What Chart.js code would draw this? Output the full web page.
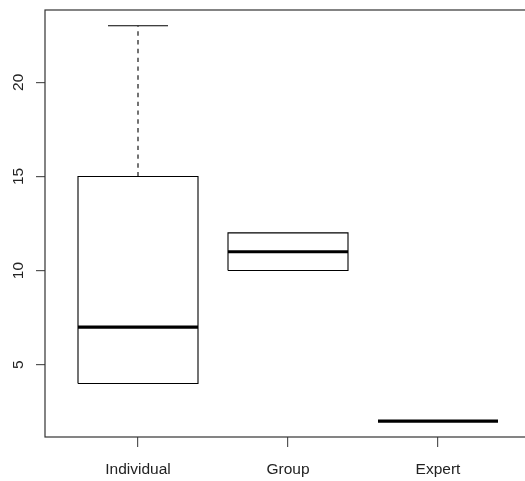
<!DOCTYPE html>
<html>
<head>
<meta charset="utf-8">
<script src="https://cdn.jsdelivr.net/npm/chart.js@4/dist/chart.umd.min.js"></script>
<style>
  html, body { margin: 0; padding: 0; background: #fff; overflow: hidden; }
  #wrap { position: relative; width: 532px; height: 481px; }
</style>
</head>
<body>
<div id="wrap"><canvas id="c" width="532" height="481"></canvas></div>
<script>
// Five-number summaries per group
const categories  = ['Individual', 'Group', 'Expert'];
const whiskerLow  = [4, 10, 2];
const quartile1   = [4, 10, 2];
const medians     = [7, 11, 2];
const quartile3   = [15, 12, 2];
const whiskerHigh = [23, 12, 2];
const yTicks      = [5, 10, 15, 20];

const HALF_BOX = 0.4;   // half of box width (x units)
const HALF_CAP = 0.2;   // half of staple width

function segment(points, width, dash) {
  return {
    data: points,
    showLine: true,
    borderColor: '#000',
    borderWidth: width,
    borderDash: dash || [],
    borderCapStyle: 'butt',
    pointRadius: 0,
    pointHoverRadius: 0,
    fill: false,
    tension: 0
  };
}

const datasets = [];
// medians (first so they sit on top)
categories.forEach((c, i) => {
  const x = i + 1;
  datasets.push(segment([{x: x - HALF_BOX, y: medians[i]}, {x: x + HALF_BOX, y: medians[i]}], 3.2));
});
// boxes
categories.forEach((c, i) => {
  const x = i + 1;
  datasets.push(segment([
    {x: x - HALF_BOX, y: quartile1[i]},
    {x: x + HALF_BOX, y: quartile1[i]},
    {x: x + HALF_BOX, y: quartile3[i]},
    {x: x - HALF_BOX, y: quartile3[i]},
    {x: x - HALF_BOX, y: quartile1[i]}
  ], 1.1));
});
// whiskers (dashed) and staples, only where they extend beyond the box
categories.forEach((c, i) => {
  const x = i + 1;
  if (whiskerHigh[i] > quartile3[i]) {
    datasets.push(segment([{x: x, y: quartile3[i]}, {x: x, y: whiskerHigh[i]}], 1.1, [4.4, 4.4]));
    datasets.push(segment([{x: x - HALF_CAP, y: whiskerHigh[i]}, {x: x + HALF_CAP, y: whiskerHigh[i]}], 1.1));
  }
  if (whiskerLow[i] < quartile1[i]) {
    datasets.push(segment([{x: x, y: quartile1[i]}, {x: x, y: whiskerLow[i]}], 1.1, [4.4, 4.4]));
    datasets.push(segment([{x: x - HALF_CAP, y: whiskerLow[i]}, {x: x + HALF_CAP, y: whiskerLow[i]}], 1.1));
  }
});

// box around the plotting region
const framePlugin = {
  id: 'frame',
  afterDraw(chart) {
    const {ctx, chartArea: a} = chart;
    ctx.save();
    ctx.strokeStyle = '#333';
    ctx.lineWidth = 1.2;
    ctx.strokeRect(a.left, a.top, a.right - a.left, a.bottom - a.top);
    ctx.restore();
  }
};

const tickFont = {family: '"Liberation Sans", Arial, sans-serif', size: 15.5};

new Chart(document.getElementById('c'), {
  type: 'scatter',
  data: {datasets},
  plugins: [framePlugin],
  options: {
    responsive: false,
    animation: false,
    events: [],
    layout: {padding: {top: 10, right: 1, left: 0, bottom: 0}},
    plugins: {legend: {display: false}, tooltip: {enabled: false}},
    scales: {
      x: {
        type: 'linear',
        min: 0.38,
        max: 3.62,
        afterBuildTicks: s => { s.ticks = categories.map((c, i) => ({value: i + 1})); },
        afterFit: s => { s.height = 44; s.paddingLeft = 0; s.paddingRight = 0; },
        border: {display: false},
        grid: {display: true, drawOnChartArea: false, drawTicks: true, tickLength: 10, color: '#555', lineWidth: 1.2},
        ticks: {
          font: tickFont,
          color: '#222',
          padding: 13,
          maxRotation: 0,
          autoSkip: false,
          callback: v => categories[Math.round(v) - 1]
        }
      },
      y: {
        type: 'linear',
        min: 1.16,
        max: 23.84,
        afterBuildTicks: s => { s.ticks = yTicks.map(v => ({value: v})); },
        afterFit: s => { s.width = 45; s.paddingTop = 0; s.paddingBottom = 0; },
        border: {display: false},
        grid: {display: true, drawOnChartArea: false, drawTicks: true, tickLength: 9, color: '#555', lineWidth: 1.2},
        ticks: {
          font: tickFont,
          color: '#222',
          padding: 9,
          minRotation: 90,
          maxRotation: 90,
          crossAlign: 'center',
          autoSkip: false,
          callback: v => String(v)
        }
      }
    }
  }
});
</script>
</body>
</html>
